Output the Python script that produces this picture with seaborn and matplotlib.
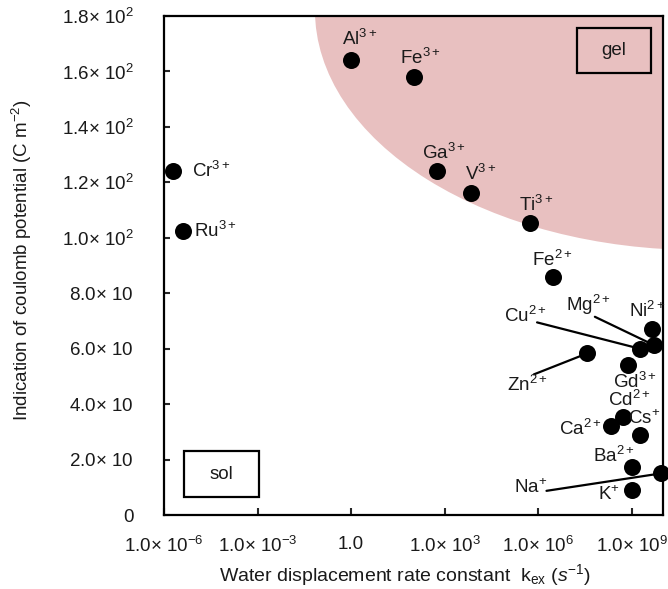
import matplotlib
matplotlib.use("Agg")
import matplotlib.pyplot as plt
from matplotlib.patches import Ellipse, Rectangle
from matplotlib.ticker import FixedLocator, FixedFormatter, NullLocator
import pandas as pd
import seaborn as sns

# Metal ions: water exchange rate constant k_ex (s^-1) and coulomb potential (C m^-2)
elements = ["Cr", "Ru", "Al", "Fe", "Ga", "V", "Ti", "Fe", "Ni", "Mg",
            "Cu", "Zn", "Gd", "Cd", "Ca", "Cs", "Ba", "Na", "K"]
charges = ["3+", "3+", "3+", "3+", "3+", "3+", "3+", "2+", "2+", "2+",
           "2+", "2+", "3+", "2+", "2+", "+", "2+", "+", "+"]
kex = [2.0e-6, 4.0e-6, 1.0e0, 1.05e2, 5.5e2, 6.9e3, 5.6e5, 2.9e6, 4.4e9, 5.1e9,
       1.8e9, 3.7e7, 7.8e8, 5.1e8, 2.1e8, 1.9e9, 9.8e8, 8.5e9, 9.8e8]
potential = [124, 102.5, 164, 158, 124, 116, 105.5, 86, 67, 61.3,
             60, 58.3, 54, 35.5, 32, 29, 17.4, 15, 9]

xtick_values = [1e-6, 1e-3, 1, 1e3, 1e6, 1e9]
xtick_labels = ["1.0$\\times$ 10$^{-6}$", "1.0$\\times$ 10$^{-3}$", "1.0",
                "1.0$\\times$ 10$^{3}$", "1.0$\\times$ 10$^{6}$", "1.0$\\times$ 10$^{9}$"]
ytick_values = [0, 20, 40, 60, 80, 100, 120, 140, 160, 180]
ytick_labels = ["0", "2.0$\\times$ 10", "4.0$\\times$ 10", "6.0$\\times$ 10", "8.0$\\times$ 10",
                "1.0$\\times$ 10$^{2}$", "1.2$\\times$ 10$^{2}$", "1.4$\\times$ 10$^{2}$",
                "1.6$\\times$ 10$^{2}$", "1.8$\\times$ 10$^{2}$"]

df = pd.DataFrame({"kex": kex, "potential": potential,
                   "label": [f"{e}$^{{{c}}}$" for e, c in zip(elements, charges)]})

sns.set_style("white")
plt.rcParams["font.family"] = ["Liberation Sans", "DejaVu Sans"]
plt.rcParams["mathtext.fontset"] = "custom"
plt.rcParams["mathtext.rm"] = "Liberation Sans"
plt.rcParams["mathtext.it"] = "Liberation Sans:italic"
plt.rcParams["mathtext.bf"] = "Liberation Sans:bold"

TXT = "#1a1a1a"
FS = 13.5
fig = plt.figure(figsize=(6.68, 5.89), dpi=100)
ax = fig.add_axes([0.2455, 0.1256, 0.747, 0.8472])
ax.set_xscale("log")
ax.set_xlim(1e-6, 1e10)
ax.set_ylim(0, 180)

# gel region (quarter ellipse toward high rate / high potential)
ax.add_patch(Ellipse((1.074, 1.012), 1.543, 0.962, transform=ax.transAxes,
                     facecolor="#e8c0c0", edgecolor="none", zorder=0))

sns.scatterplot(data=df, x="kex", y="potential", ax=ax, color="black", s=150,
                edgecolor="black", linewidth=0, zorder=4, clip_on=False, legend=False)

# label offsets in pixels: (dx, dy, ha, leader-line start)
offsets = {
    0: (19, 0, "left", None),
    1: (11, 0, "left", None),
    2: (8.5, 21.7, "center", None),
    3: (6, 19, "center", None),
    4: (7, 18, "center", None),
    5: (10, 19, "center", None),
    6: (6, 18, "center", None),
    7: (0, 17, "center", None),
    8: (-5, 18, "center", None),
    9: (-65, 40, "center", (-59, 28.3)),
    10: (-114, 32.3, "center", (-102.7, 26.3)),
    11: (-60, -31.7, "center", (-53.3, -21)),
    12: (6.7, -16.7, "center", None),
    13: (6.3, 16.7, "center", None),
    14: (-9.3, -2.3, "right", None),
    15: (3.3, 16, "center", None),
    16: (-17.7, 10.9, "center", None),
    17: (-130, -14.2, "center", (-114.3, -17.4)),
    18: (-11.7, -5, "right", None),
}
for i, row in df.iterrows():
    dx, dy, ha, line = offsets[i]
    ax.annotate(row["label"], (row["kex"], row["potential"]), xytext=(dx, dy),
                textcoords="offset pixels", ha=ha, va="center", fontsize=FS,
                color=TXT, zorder=5, annotation_clip=False)
    if line is not None:
        ax.annotate("", (row["kex"], row["potential"]), xytext=line,
                    textcoords="offset pixels", zorder=3,
                    arrowprops=dict(arrowstyle="-", lw=1.6, color="black",
                                    shrinkA=0, shrinkB=0))

# region boxes
for (x0, y0, w, h), name in [((0.827, 0.885, 0.148, 0.090), "gel"),
                             ((0.040, 0.0355, 0.150, 0.0934), "sol")]:
    ax.add_patch(Rectangle((x0, y0), w, h, transform=ax.transAxes, fill=False,
                           edgecolor="black", lw=1.6, zorder=3))
    ax.text(x0 + w / 2, y0 + h / 2, name, transform=ax.transAxes, ha="center",
            va="center", fontsize=FS, color=TXT)

ax.xaxis.set_major_locator(FixedLocator(xtick_values))
ax.xaxis.set_major_formatter(FixedFormatter(xtick_labels))
ax.xaxis.set_minor_locator(NullLocator())
ax.yaxis.set_major_locator(FixedLocator(ytick_values))
ax.yaxis.set_major_formatter(FixedFormatter(ytick_labels))
ax.tick_params(axis="x", direction="in", length=5, width=1.5, pad=15,
               labelsize=FS, labelcolor=TXT, bottom=True)
ax.tick_params(axis="y", direction="in", length=4, width=1.5, pad=22,
               labelsize=FS, labelcolor=TXT, left=True)
for sp in ax.spines.values():
    sp.set_linewidth(1.6)
    sp.set_color("black")

ax.set_xlabel("Water displacement rate constant  k$_{\\mathrm{ex}}$ ($s^{-1}$)",
              fontsize=14, color=TXT)
ax.xaxis.set_label_coords(0.483, -0.095)
ax.set_ylabel("Indication of coulomb potential (C m$^{-2}$)", fontsize=FS, color=TXT)
ax.yaxis.set_label_coords(-0.2605, 0.511)

fig.savefig("out.png", dpi=100)
